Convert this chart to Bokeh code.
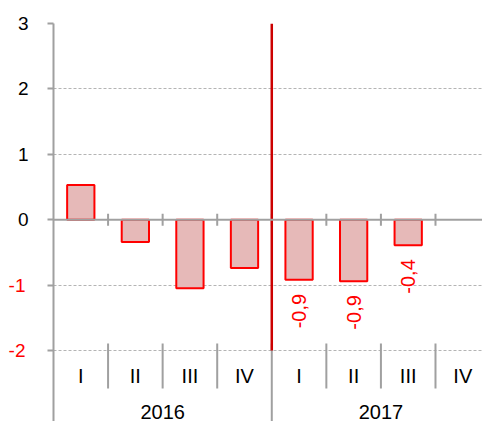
from bokeh.plotting import figure
from bokeh.models import Range1d, FixedTicker, Span, LinearAxis
from bokeh.core.properties import value
from bokeh.embed import file_html
from bokeh.resources import INLINE

# ---- data ----
quarters = ["I", "II", "III", "IV", "I", "II", "III", "IV"]
years = ["2016", "2017"]
values = [0.53, -0.34, -1.05, -0.74, -0.92, -0.94, -0.39]
data_labels = ["", "", "", "", "-0,9", "-0,9", "-0,4"]
y_ticks = [-2, -1, 0, 1, 2, 3]

FONT = "Liberation Sans"
GRAY = "#a0a0a0"
PX = 65.4                       # pixels per y unit
q_per_year = len(quarters) // len(years)

y_top = y_ticks[-1]
y_bottom = y_top - 398 / PX
x_end = 429 / 54.57

p = figure(width=482, height=421, output_backend="svg", toolbar_location=None,
           x_range=Range1d(0, x_end), y_range=Range1d(y_bottom, y_top),
           x_axis_location=None, min_border_left=53, min_border_right=0,
           min_border_top=23, min_border_bottom=0)
p.outline_line_color = None
p.background_fill_color = "white"
p.xgrid.visible = False

# y axis (black labels for non-negative ticks)
ax = p.yaxis[0]
ax.ticker = FixedTicker(ticks=y_ticks)
ax.axis_line_color = GRAY
ax.axis_line_width = 2
ax.major_tick_line_color = GRAY
ax.major_tick_line_width = 2
ax.major_tick_out = 6
ax.major_tick_in = 0
ax.minor_tick_line_color = None
ax.major_label_standoff = 19
ax.major_label_text_font = FONT
ax.major_label_text_font_size = "19px"
ax.major_label_text_color = "black"
ax.major_label_overrides = {t: " " for t in y_ticks if t < 0}

# second left axis carrying the red negative tick labels
neg_ticks = [t for t in y_ticks if t < 0]
neg_ax = LinearAxis(ticker=FixedTicker(ticks=neg_ticks))
neg_ax.axis_line_color = None
neg_ax.major_tick_line_color = None
neg_ax.minor_tick_line_color = None
neg_ax.major_tick_out = 0
neg_ax.major_tick_in = 0
neg_ax.major_label_standoff = -11
neg_ax.major_label_text_font = FONT
neg_ax.major_label_text_font_size = "19px"
neg_ax.major_label_text_color = "#ff0000"
neg_ax.major_label_overrides = {t: str(t) for t in neg_ticks}
p.add_layout(neg_ax, "left")

# grid
p.ygrid.ticker = FixedTicker(ticks=[t for t in y_ticks if t != 0])
p.ygrid.grid_line_color = "#b4b4b4"
p.ygrid.grid_line_dash = "3 2"
p.ygrid.grid_line_width = 1

# bars
xs = [i + 0.5 for i in range(len(values))]
p.vbar(x=xs, top=values, bottom=0, width=0.5, fill_color="#e6b9b8",
       line_color="#ff0000", line_width=2)

# zero line with boundary ticks
p.add_layout(Span(location=0, dimension="width", line_color=GRAY, line_width=2))
bx = list(range(1, len(quarters)))
p.segment(x0=bx, y0=[-6 / PX] * len(bx), x1=bx, y1=[6 / PX] * len(bx),
          line_color=GRAY, line_width=2)

# category dividers
d_top = y_ticks[0] + 7 / PX
q_bx = [b for b in bx if b % q_per_year != 0]
p.segment(x0=q_bx, y0=[d_top] * len(q_bx), x1=q_bx,
          y1=[y_ticks[0] - 38 / PX] * len(q_bx), line_color=GRAY, line_width=2)
y_bx = [q_per_year * k for k in range(1, len(years) + 1)]
p.segment(x0=y_bx, y0=[d_top] * len(y_bx), x1=y_bx, y1=[y_bottom] * len(y_bx),
          line_color=GRAY, line_width=2)

# red year separator
sep = [q_per_year * k for k in range(1, len(years))]
p.segment(x0=sep, y0=[y_ticks[0]] * len(sep), x1=sep, y1=[y_top] * len(sep),
          line_color="#cc0000", line_width=2.5)

# quarter labels
qx = [i + 0.5 for i in range(len(quarters))]
p.text(x=qx, y=[y_ticks[0] - 25 / PX] * len(qx), text=quarters,
       text_font=value(FONT), text_font_size="20px", text_align="center",
       text_baseline="middle", text_color="black")

# year labels
yx = [q_per_year * (k + 0.5) for k in range(len(years))]
p.text(x=yx, y=[y_ticks[0] - 61 / PX] * len(yx), text=years,
       text_font=value(FONT), text_font_size="20px", text_align="center",
       text_baseline="middle", text_color="black")

# data labels (rotated, below bar)
lab_x = [xs[i] for i in range(len(values)) if data_labels[i]]
lab_y = [values[i] - 14 / PX for i in range(len(values)) if data_labels[i]]
lab_t = [data_labels[i] for i in range(len(values)) if data_labels[i]]
p.text(x=lab_x, y=lab_y, text=lab_t, angle=1.5708, text_font=value(FONT),
       text_font_size="20px", text_align="right", text_baseline="middle",
       text_color="#ff0000")

open("out.html", "w").write(file_html(p, INLINE))
